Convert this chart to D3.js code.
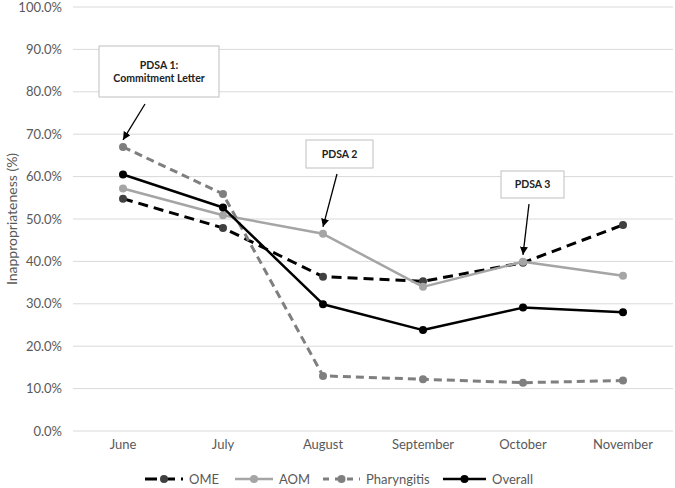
<!DOCTYPE html>
<html>
<head>
<meta charset="utf-8">
<script src="https://cdn.jsdelivr.net/npm/d3@7"></script>
<style>
  body { margin: 0; background: #fff; }
  text { font-family: Lato, "Open Sans", "Liberation Sans", sans-serif; }
</style>
</head>
<body>
<div id="chart"></div>
<script>
const months = ["June", "July", "August", "September", "October", "November"];
const ome = [54.8, 47.9, 36.4, 35.3, 39.7, 48.6];
const aom = [57.2, 50.9, 46.5, 34.0, 39.9, 36.6];
const pharyngitis = [67.0, 55.9, 13.0, 12.2, 11.4, 11.9];
const overall = [60.5, 52.7, 29.9, 23.8, 29.1, 28.0];
const yTicks = [0, 10, 20, 30, 40, 50, 60, 70, 80, 90, 100];

const series = [
  {name: "OME", values: ome, stroke: "#000", marker: "#404040", width: 3, dash: "10,6"},
  {name: "AOM", values: aom, stroke: "#a5a5a5", marker: "#a5a5a5", width: 2.5, dash: null},
  {name: "Pharyngitis", values: pharyngitis, stroke: "#7f7f7f", marker: "#7f7f7f", width: 3, dash: "8,5"},
  {name: "Overall", values: overall, stroke: "#000", marker: "#000", width: 2.5, dash: null}
];

// annotation boxes, each pointing at one month of the Pharyngitis/AOM lines
const notes = [
  {lines: ["PDSA 1:", "Commitment Letter"], box: [99, 46, 120, 51], from: [145, 104], month: 0, value: 67.0},
  {lines: ["PDSA 2"], box: [306, 140, 67, 28], from: [337, 174], month: 2, value: 46.5},
  {lines: ["PDSA 3"], box: [501, 171, 63, 27], from: [529, 204], month: 4, value: 39.9}
];

const width = 675, height = 488;
const svg = d3.select("#chart").append("svg")
  .attr("width", width)
  .attr("height", height);

const x = d3.scaleBand()
  .domain(months)
  .range([73, 673]);

const y = d3.scaleLinear()
  .domain([0, 100])
  .range([431, 7]);

// gridlines
svg.append("g")
  .selectAll("line")
  .data(yTicks)
  .enter().append("line")
  .attr("x1", 73)
  .attr("x2", 673)
  .attr("y1", d => y(d))
  .attr("y2", d => y(d))
  .style("stroke", "#d9d9d9")
  .style("stroke-width", 1);

// y axis labels
const yAxis = d3.axisLeft(y)
  .tickValues(yTicks)
  .tickSize(0)
  .tickPadding(0)
  .tickFormat(d => d.toFixed(1) + "%");
const yg = svg.append("g")
  .attr("transform", "translate(62,0)")
  .call(yAxis);
yg.select(".domain").remove();
yg.selectAll("text")
  .style("font-size", "13px")
  .style("fill", "#595959")
  .attr("font-family", null);

// x axis labels
const xAxis = d3.axisBottom(x).tickSize(0).tickPadding(0);
const xg = svg.append("g")
  .attr("transform", "translate(0,440)")
  .call(xAxis);
xg.select(".domain").remove();
xg.selectAll("text")
  .style("font-size", "13px")
  .style("fill", "#595959")
  .attr("font-family", null);

svg.append("text")
  .attr("transform", "translate(17,219) rotate(-90)")
  .attr("text-anchor", "middle")
  .style("font-size", "14px")
  .style("fill", "#595959")
  .text("Inappropriateness (%)");

const line = d3.line()
  .x((d, i) => x(months[i]) + x.bandwidth() / 2)
  .y(d => y(d));

series.forEach(function(s) {
  const g = svg.append("g");
  g.append("path")
    .attr("d", line(s.values))
    .style("fill", "none")
    .style("stroke", s.stroke)
    .style("stroke-width", s.width)
    .style("stroke-dasharray", s.dash)
    .style("stroke-linejoin", "round");
  g.selectAll("circle")
    .data(s.values)
    .enter().append("circle")
    .attr("cx", (d, i) => x(months[i]) + x.bandwidth() / 2)
    .attr("cy", d => y(d))
    .attr("r", 4)
    .style("fill", s.marker);
});

// annotations
svg.append("defs").append("marker")
  .attr("id", "arrow")
  .attr("viewBox", "0 0 10 10")
  .attr("refX", 10)
  .attr("refY", 5)
  .attr("markerWidth", 8)
  .attr("markerHeight", 8)
  .attr("markerUnits", "userSpaceOnUse")
  .attr("orient", "auto")
  .append("path")
  .attr("d", "M0,0L10,5L0,10z")
  .style("fill", "#000");

notes.forEach(function(n) {
  const g = svg.append("g");
  g.append("rect")
    .attr("x", n.box[0])
    .attr("y", n.box[1])
    .attr("width", n.box[2])
    .attr("height", n.box[3])
    .style("fill", "#fff")
    .style("stroke", "#bfbfbf")
    .style("stroke-width", 1);
  const cy = n.box[1] + n.box[3] / 2 - (n.lines.length - 1) * 6.5;
  n.lines.forEach(function(t, i) {
    g.append("text")
      .attr("x", n.box[0] + n.box[2] / 2)
      .attr("y", cy + i * 13)
      .attr("dy", "0.35em")
      .attr("text-anchor", "middle")
      .style("font-size", "10.5px")
      .style("font-weight", "bold")
      .style("fill", "#222")
      .text(t);
  });
  const tx = x(months[n.month]) + x.bandwidth() / 2;
  const ty = y(n.value) - 7;
  g.append("line")
    .attr("x1", n.from[0])
    .attr("y1", n.from[1])
    .attr("x2", tx)
    .attr("y2", ty)
    .style("stroke", "#000")
    .style("stroke-width", 1.3)
    .attr("marker-end", "url(#arrow)");
});

// legend
const legend = [
  {s: series[0], x: 145, w: 38},
  {s: series[1], x: 235, w: 38},
  {s: series[2], x: 323, w: 37},
  {s: series[3], x: 443, w: 43}
];
legend.forEach(function(l) {
  const g = svg.append("g").attr("transform", "translate(" + l.x + ",479)");
  g.append("line")
    .attr("x1", 0)
    .attr("x2", l.w)
    .style("stroke", l.s.stroke)
    .style("stroke-width", l.s.width)
    .style("stroke-dasharray", l.s.dash ? (l.s.name === "OME" ? "12,6" : "6,6") : null);
  g.append("circle")
    .attr("cx", l.w / 2)
    .attr("r", 4)
    .style("fill", l.s.marker);
  g.append("text")
    .attr("x", l.w + 6)
    .attr("dy", "0.35em")
    .style("font-size", "13px")
    .style("fill", "#595959")
    .text(l.s.name);
});
</script>
</body>
</html>
